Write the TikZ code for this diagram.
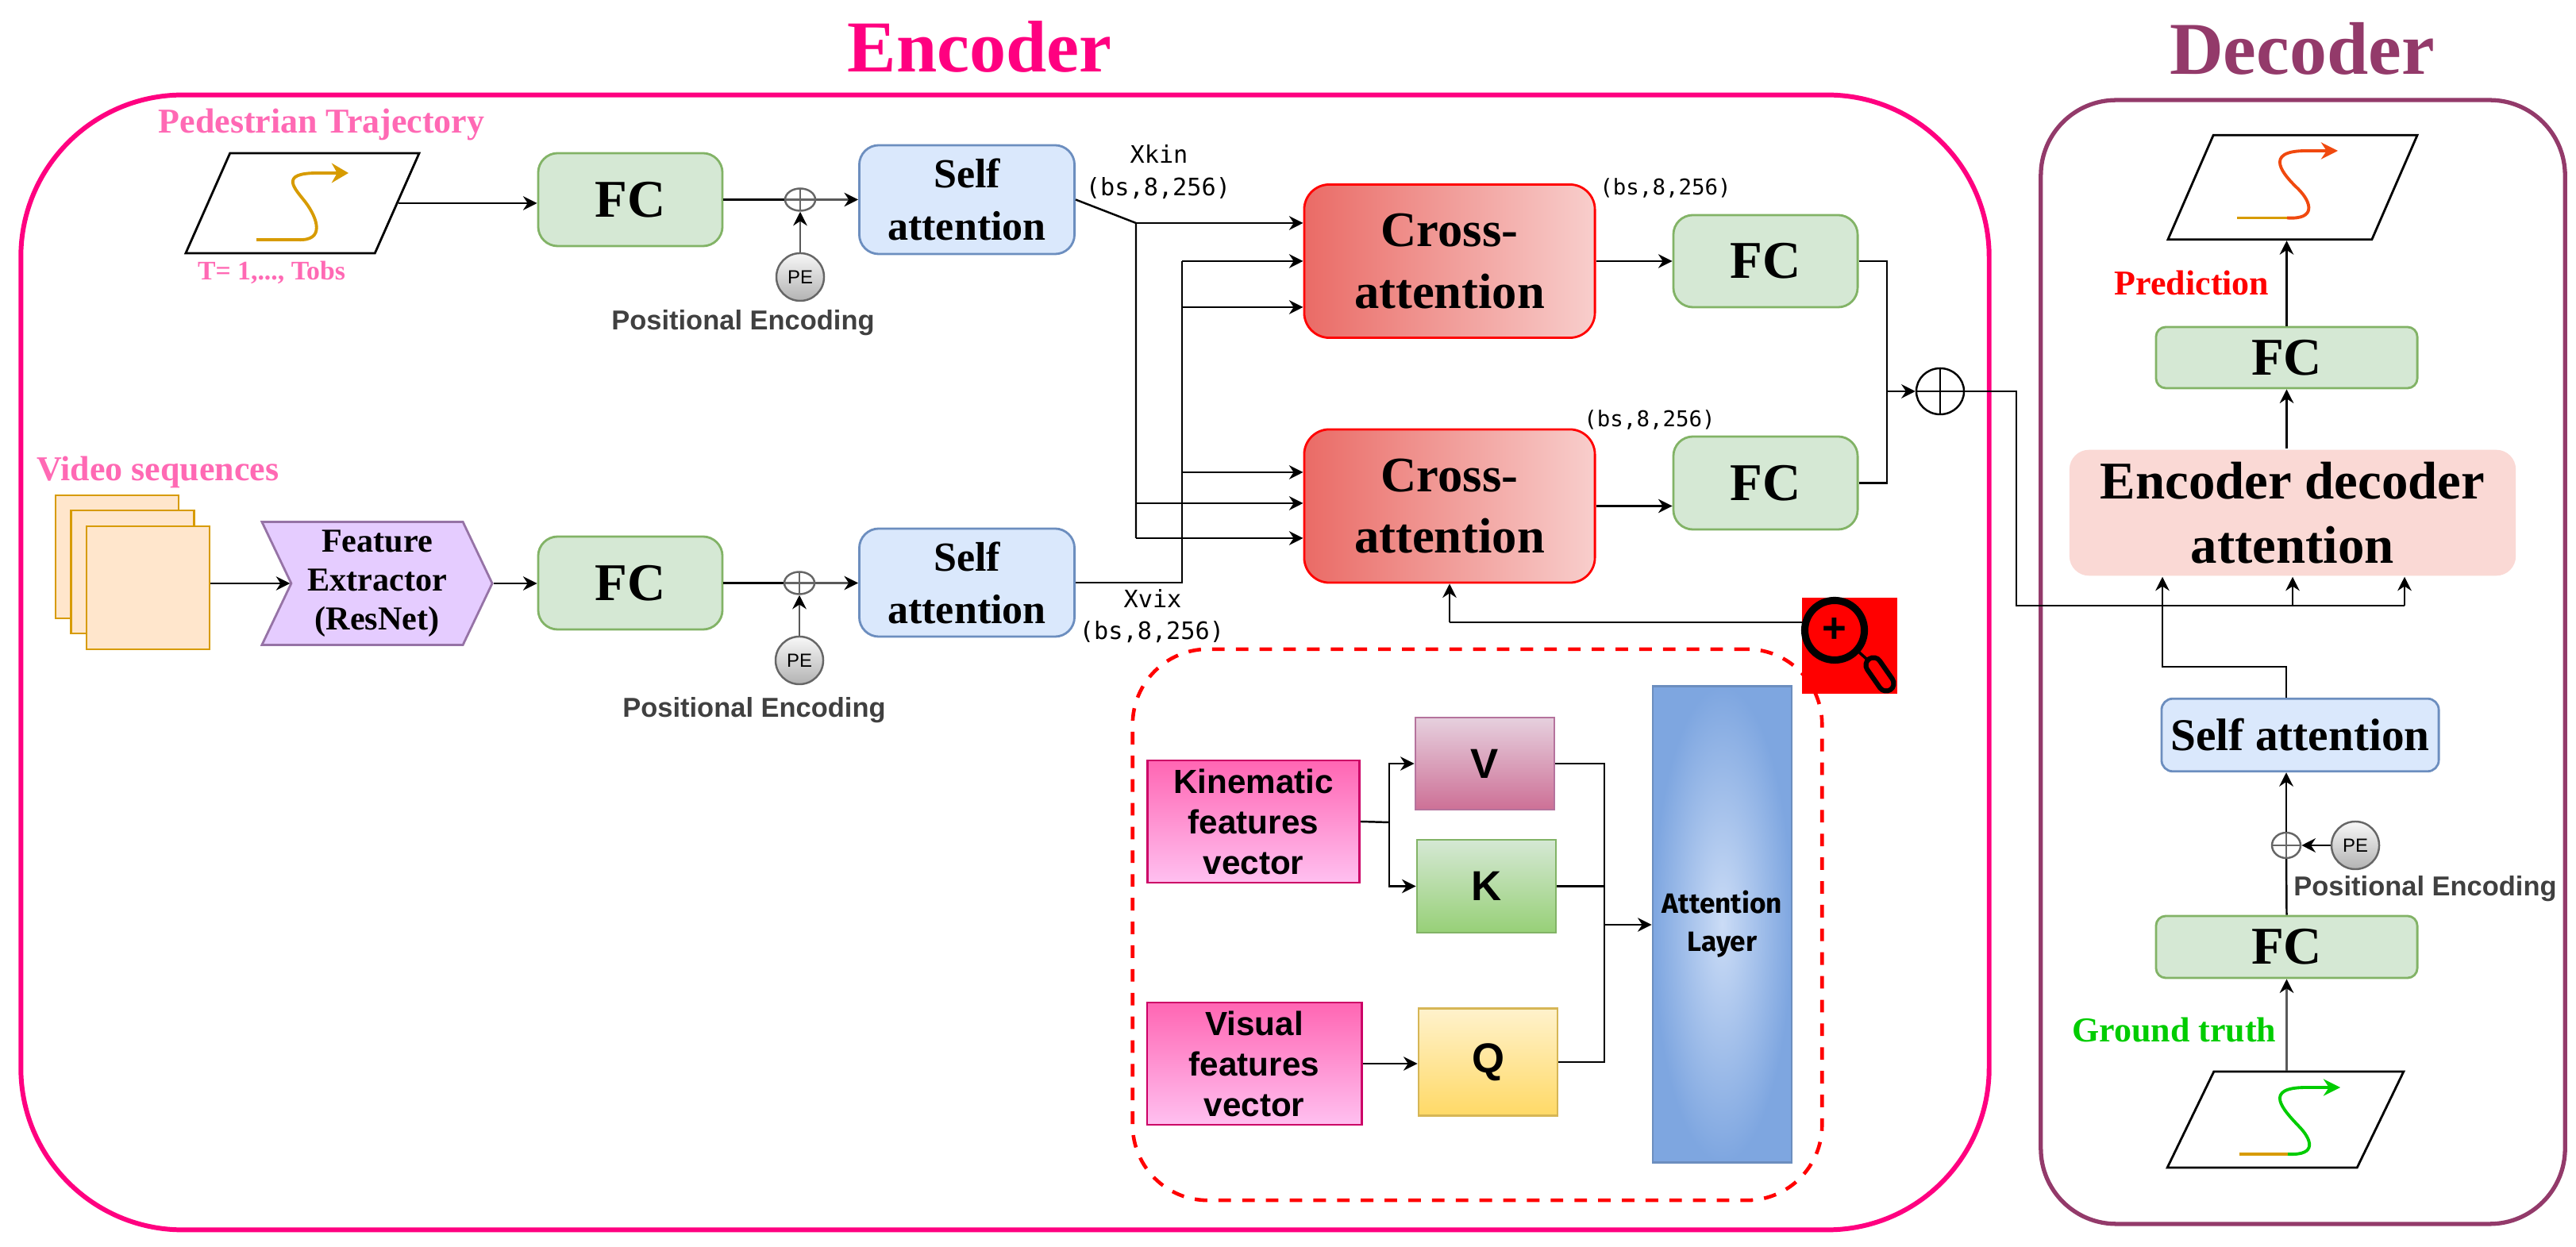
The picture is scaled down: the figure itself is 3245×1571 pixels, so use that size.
\documentclass[tikz,border=0pt]{standalone}
\usepackage{fontspec}
\setmainfont{Liberation Serif}
\setsansfont{Liberation Sans}
\setmonofont{DejaVu Sans Mono}
\newfontfamily\attnfont{Fira Sans}
\usetikzlibrary{arrows.meta,shapes.geometric,shapes.symbols}

\definecolor{encpink}{HTML}{FF0080}
\definecolor{decplum}{HTML}{933A6A}
\definecolor{lblpink}{HTML}{FF69B4}
\definecolor{trajgold}{HTML}{D79B00}
\definecolor{predred}{HTML}{F0490F}
\definecolor{gtgreen}{HTML}{00CC00}
\definecolor{fcfill}{HTML}{D5E8D4}
\definecolor{fcline}{HTML}{82B366}
\definecolor{selffill}{HTML}{DAE8FC}
\definecolor{selfline}{HTML}{6C8EBF}
\definecolor{crossa}{HTML}{EA6B66}
\definecolor{crossb}{HTML}{F8CECC}
\definecolor{framefill}{HTML}{FFE6CC}
\definecolor{featfill}{HTML}{E5CCFF}
\definecolor{featline}{HTML}{9673A6}
\definecolor{edafill}{HTML}{FAD9D5}
\definecolor{vecA}{HTML}{FF66B3}
\definecolor{vecB}{HTML}{FFC0F0}
\definecolor{keyvA}{HTML}{E6D0DE}
\definecolor{keyvB}{HTML}{CD7096}
\definecolor{keyvline}{HTML}{B5739D}
\definecolor{keykB}{HTML}{97D077}
\definecolor{keyqA}{HTML}{FFF2CC}
\definecolor{keyqB}{HTML}{FFD966}
\definecolor{keyqline}{HTML}{D6B656}
\definecolor{attnA}{HTML}{CBDCF6}
\definecolor{attnB}{HTML}{7EA6E0}

\tikzset{
    wire/.style={line width=0.7pt, black},
    arr/.style={wire, -{Stealth[length=5pt,width=5pt]}},
    grayarr/.style={line width=0.7pt, black!65, -{Stealth[length=5pt,width=5pt,black]}},
    card/.style={draw, inner sep=0pt, align=center, line width=0.8pt},
    fcbox/.style={card, rounded corners=7pt, draw=fcline, fill=fcfill, font=\bfseries\fontsize{19}{23}\selectfont},
    selfbox/.style={card, rounded corners=7pt, draw=selfline, fill=selffill, font=\bfseries\fontsize{14.8}{18.8}\selectfont},
    crossbox/.style={card, rounded corners=9pt, draw=red, left color=crossa, right color=crossb, minimum width=3.66cm, minimum height=1.93cm, font=\bfseries\fontsize{17.8}{22}\selectfont},
    framebox/.style={card, fill=framefill, draw=trajgold, minimum width=1.55cm, minimum height=1.55cm},
    pebox/.style={circle, draw=black!60, line width=0.7pt, top color=black!3, bottom color=black!30, inner sep=0pt, minimum size=0.6cm, font=\sffamily\fontsize{6.8}{8}\selectfont},
    adder/.style={ellipse, draw=#1, line width=0.7pt, inner sep=0pt, path picture={
        \draw[#1, line width=0.7pt] (path picture bounding box.north) -- (path picture bounding box.south);
        \draw[#1, line width=0.7pt] (path picture bounding box.west) -- (path picture bounding box.east);}},
    trajbox/.style={trapezium, draw, line width=0.8pt, inner sep=1pt, trapezium stretches=true},
    peword/.style={inner sep=0pt, text=black!75, font=\sffamily\bfseries\fontsize{9.8}{12}\selectfont},
    pinkword/.style={inner sep=0pt, text=lblpink, font=\bfseries\fontsize{12.5}{15}\selectfont},
    shapeword/.style={inner sep=0pt, font=\ttfamily\fontsize{#1}{10}\selectfont},
    vecbox/.style={card, draw=encpink!80!black, top color=vecA, bottom color=vecB, font=\sffamily\bfseries\fontsize{12}{14.5}\selectfont},
    letterbox/.style={card, minimum width=1.75cm, font=\sffamily\bfseries\fontsize{15}{18}\selectfont},
}

\begin{document}
\begin{tikzpicture}[x=0.01cm, y=-0.01cm]
    \useasboundingbox (0,0) rectangle (3245,1571);
    %\draw[lightgray] (0,0) grid (3245,1571);

    \node[inner sep=0pt, text=encpink, font=\bfseries\fontsize{26.2}{30}\selectfont] (enctitle) at (1234,59) {Encoder};
    \node[inner sep=0pt, text=decplum, font=\bfseries\fontsize{26.7}{30}\selectfont] (dectitle) at (2900,61) {Decoder};
    \node[draw=encpink, line width=1.7pt, rounded corners=58pt, minimum width=24.78cm, minimum height=14.29cm] (encframe) at (1266,834.5) {};
    \node[draw=decplum, line width=1.5pt, rounded corners=27pt, minimum width=6.6cm, minimum height=14.15cm] (decframe) at (2901,834) {};

    % top branch
    \node[pinkword] (trajlabel) at (405,157) {Pedestrian Trajectory};
    \node[trajbox, minimum width=2.94cm, minimum height=1.26cm, trapezium left angle=73, trapezium right angle=107] (trajin) at (381,256) {};
    \draw[trajgold, line width=1.1pt, -{Stealth[length=6pt,width=7pt]}] (323,302) -- (375,302) .. controls (410,304) and (400,275) .. (385,255) .. controls (372,238) and (350,218) .. (400,218) -- (439,218);
    \node[inner sep=0pt, text=lblpink, font=\bfseries\fontsize{9.6}{11}\selectfont] (trajtime) at (342,343) {T= 1,..., Tobs};
    \node[fcbox, minimum width=2.32cm, minimum height=1.17cm] (fca) at (794,251.5) {FC};
    \node[adder=black!60, minimum width=0.38cm, minimum height=0.28cm] (adda) at (1008,251.5) {};
    \node[pebox] (pea) at (1008,349) {PE};
    \node[peword] (pewa) at (936,407) {Positional Encoding};
    \node[selfbox, minimum width=2.71cm, minimum height=1.37cm] (saa) at (1218,251.5) {Self\\attention};

    % bottom branch
    \node[pinkword] (vidlabel) at (199,595) {Video sequences};
    \node[framebox] (vida) at (147.5,701.5) {};
    \node[framebox] (vidb) at (167,720.5) {};
    \node[framebox] (vidc) at (186.5,740.5) {};
    \node[card, signal, signal from=west, signal to=east, signal pointer angle=129, draw=featline, fill=featfill, minimum width=2.9cm, minimum height=1.55cm, font=\bfseries\fontsize{12}{13.9}\selectfont] (feat) at (475,735) {Feature\\Extractor\\(ResNet)};
    \node[fcbox, minimum width=2.32cm, minimum height=1.17cm] (fcb) at (794,734.5) {FC};
    \node[adder=black!60, minimum width=0.38cm, minimum height=0.28cm] (addb) at (1007,734.5) {};
    \node[pebox] (peb) at (1007,832) {PE};
    \node[peword] (pewb) at (950,895) {Positional Encoding};
    \node[selfbox, minimum width=2.71cm, minimum height=1.36cm] (sab) at (1218,734) {Self\\attention};

    \draw[arr] (trajin.east) -- (trajin.east -| fca.west);
    \draw[wire] (fca.east) -- (adda.west);
    \draw[grayarr] (adda.east) -- (saa.west);
    \draw[grayarr] (pea.north) -- (adda.south);
    \draw[arr] (vidc.east |- feat) -- (feat.west);
    \draw[arr] (feat.east) -- (feat.east -| fcb.west);
    \draw[wire] (fcb.east) -- (addb.west);
    \draw[grayarr] (addb.east) -- (addb.east -| sab.west);
    \draw[grayarr] (peb.north) -- (addb.south);

    % cross attention
    \node[crossbox] (caa) at (1826,329) {Cross-\\attention};
    \node[crossbox] (cab) at (1826,637.5) {Cross-\\attention};
    \node[fcbox, minimum width=2.32cm, minimum height=1.16cm] (fcc) at (2224,329) {FC};
    \node[fcbox, minimum width=2.32cm, minimum height=1.17cm] (fcd) at (2224,608.5) {FC};
    \node[adder=black, minimum width=0.6cm, minimum height=0.58cm] (sum) at (2444,493) {};
    \node[shapeword=8.6] (xkin) at (1460,194.5) {Xkin};
    \node[shapeword=8.6] (xkinsize) at (1459,237) {(bs,8,256)};
    \node[shapeword=8.6] (xvix) at (1452,754) {Xvix};
    \node[shapeword=8.6] (xvixsize) at (1451,796) {(bs,8,256)};
    \node[shapeword=7.8] (casizea) at (2098,237) {(bs,8,256)};
    \node[shapeword=7.8] (casizeb) at (2078,529) {(bs,8,256)};

    \coordinate (kinj) at (1431,281);
    \coordinate (kinb) at (1431,634);
    \coordinate (kinc) at (1431,678);
    \coordinate (visj) at (1489,734);
    \coordinate (visa) at (1489,329);
    \coordinate (visb) at (1489,387);
    \coordinate (visc) at (1489,595);
    \coordinate (mergej) at (2377,493);
    \draw[wire] (saa.east) -- (kinj) -- (kinc);
    \draw[arr] (kinj) -- (kinj -| caa.west);
    \draw[arr] (kinb) -- (kinb -| cab.west);
    \draw[arr] (kinc) -- (kinc -| cab.west);
    \draw[wire] (sab.east) -- (visj) -- (visa);
    \draw[arr] (visa) -- (caa.west);
    \draw[arr] (visb) -- (visb -| caa.west);
    \draw[arr] (visc) -- (visc -| cab.west);
    \draw[arr] (caa.east) -- (fcc.west);
    \draw[arr] (cab.east) -- (cab.east -| fcd.west);
    \draw[wire] (fcc.east) -| (mergej);
    \draw[wire] (fcd.east) -| (mergej);
    \draw[arr] (mergej) -- (sum.west);

    % attention detail
    \node[draw=red, line width=1.3pt, dash pattern=on 4.5pt off 4pt, rounded corners=27pt, minimum width=8.68cm, minimum height=6.94cm] (detail) at (1861,1165) {};
    \node[fill=red, inner sep=0pt, minimum width=1.2cm, minimum height=1.21cm] (zoomicon) at (2330,813.5) {};
    \node[circle, draw=black, line width=2.6pt, inner sep=0pt, minimum size=0.75cm] (lens) at (2311,794) {};
    \node[inner sep=0pt, font=\sffamily\bfseries\fontsize{15}{15}\selectfont] (lensplus) at (2311,794) {+};
    \coordinate (handlea) at (2360,838);
    \coordinate (handleb) at (2376,861);
    \draw[black, line width=1pt] (lens) -- (handlea);
    \draw[black, line width=7.2pt, line cap=round] (handlea) -- (handleb);
    \draw[red, line width=3.6pt, line cap=round] (handlea) -- (handleb);
    \coordinate (zoomout) at (2270,784);
    \coordinate (zoomup) at (1826,784);
    \draw[wire] (zoomout) -- (zoomup);
    \draw[arr] (zoomup) -- (cab.south);

    \node[vecbox, minimum width=2.67cm, minimum height=1.54cm] (kinvec) at (1579,1035) {Kinematic\\features\\vector};
    \node[vecbox, minimum width=2.7cm, minimum height=1.54cm] (visvec) at (1580,1340) {Visual\\features\\vector};
    \node[letterbox, draw=keyvline, top color=keyvA, bottom color=keyvB, minimum height=1.16cm] (keyv) at (1870.5,962) {V};
    \node[letterbox, draw=fcline, top color=fcfill, bottom color=keykB, minimum height=1.17cm] (keyk) at (1872.5,1116.5) {K};
    \node[letterbox, draw=keyqline, top color=keyqA, bottom color=keyqB, minimum height=1.355cm] (keyq) at (1874.5,1338) {Q};
    \node[card, draw=selfline, inner color=attnA, outer color=attnB, minimum width=1.75cm, minimum height=5.99cm, font=\attnfont\bfseries\fontsize{10}{13.7}\selectfont] (attn) at (2169.5,1164.5) {Attention\\Layer};

    \coordinate (kinj2) at (1750,1036);
    \coordinate (keyj) at (2021,1165);
    \draw[wire] (kinvec.east) -- (kinj2);
    \draw[arr] (kinj2) |- (keyv.west);
    \draw[arr] (kinj2) |- (keyk.west);
    \draw[arr] (visvec.east) -- (visvec.east -| keyq.west);
    \draw[wire] (keyv.east) -| (keyj);
    \draw[wire] (keyk.east) -| (keyj);
    \draw[wire] (keyq.east) -| (keyj);
    \draw[arr] (keyj) -- (attn.west |- keyj);

    % decoder
    \node[trajbox, minimum width=3.14cm, minimum height=1.315cm, trapezium left angle=74, trapezium right angle=106] (predout) at (2888,236) {};
    \draw[trajgold, line width=1.1pt] (2818,274.5) -- (2881,274.5);
    \draw[predred, line width=1.1pt, -{Stealth[length=6pt,width=6pt]}] (2881,274.5) .. controls (2918,277) and (2912,255) .. (2895,238) .. controls (2876,220) and (2850,190) .. (2905,190) -- (2945,190);
    \node[inner sep=0pt, text=red, font=\bfseries\fontsize{12.5}{15}\selectfont] (predlabel) at (2761,356) {Prediction};
    \node[fcbox, rounded corners=3.5pt, minimum width=3.29cm, minimum height=0.77cm] (fce) at (2880.5,450.5) {FC};
    \node[card, rounded corners=7pt, draw=none, fill=edafill, minimum width=5.62cm, minimum height=1.585cm, font=\bfseries\fontsize{19}{23}\selectfont] (eda) at (2888,646) {Encoder decoder\\attention};
    \node[card, rounded corners=4pt, draw=selfline, fill=selffill, minimum width=3.49cm, minimum height=0.915cm, font=\bfseries\fontsize{16.3}{20}\selectfont] (sac) at (2897.5,926) {Self attention};
    \node[adder=black!60, minimum width=0.36cm, minimum height=0.32cm] (addc) at (2880,1065) {};
    \node[pebox] (pec) at (2967,1065) {PE};
    \node[peword] (pewc) at (3055,1120) {Positional Encoding};
    \node[fcbox, rounded corners=3.5pt, minimum width=3.29cm, minimum height=0.78cm] (fcf) at (2880.5,1193) {FC};
    \node[inner sep=0pt, text=gtgreen, font=\bfseries\fontsize{12.5}{15}\selectfont] (gtlabel) at (2739,1298) {Ground truth};
    \node[trajbox, minimum width=2.975cm, minimum height=1.21cm, trapezium left angle=72, trapezium right angle=108] (gtin) at (2879,1410.5) {};
    \draw[trajgold, line width=1.1pt] (2821,1454) -- (2882,1454);
    \draw[gtgreen, line width=1.1pt, -{Stealth[length=6pt,width=6pt]}] (2882,1454) .. controls (2920,1456) and (2912,1435) .. (2895,1418) .. controls (2876,1398) and (2850,1370) .. (2905,1370) -- (2948,1370);

    \coordinate (busa) at (2540,493);
    \coordinate (busb) at (2540,763);
    \coordinate (busc) at (2888,763);
    \coordinate (busd) at (3029,763);
    \coordinate (saup) at (2880,840);
    \coordinate (saleft) at (2724,840);
    \draw[wire] (sum.east) -- (busa) -- (busb) -- (busd);
    \draw[arr] (busc) -- (eda.south);
    \draw[arr] (busd) -- (busd |- eda.south);
    \draw[arr] (saup |- sac.north) -- (saup) -- (saleft) -- (saleft |- eda.south);
    \draw[arr] (fce |- eda.north) -- (fce.south);
    \draw[arr] (fce.north) -- (fce |- predout.south);
    \draw[grayarr] (fcf |- gtin.north) -- (fcf.south);
    \draw[wire] (fcf.north) -- (addc.south);
    \draw[arr] (addc.north) -- (addc |- sac.south);
    \draw[arr] (pec.west) -- (addc.east);
\end{tikzpicture}
\end{document}
